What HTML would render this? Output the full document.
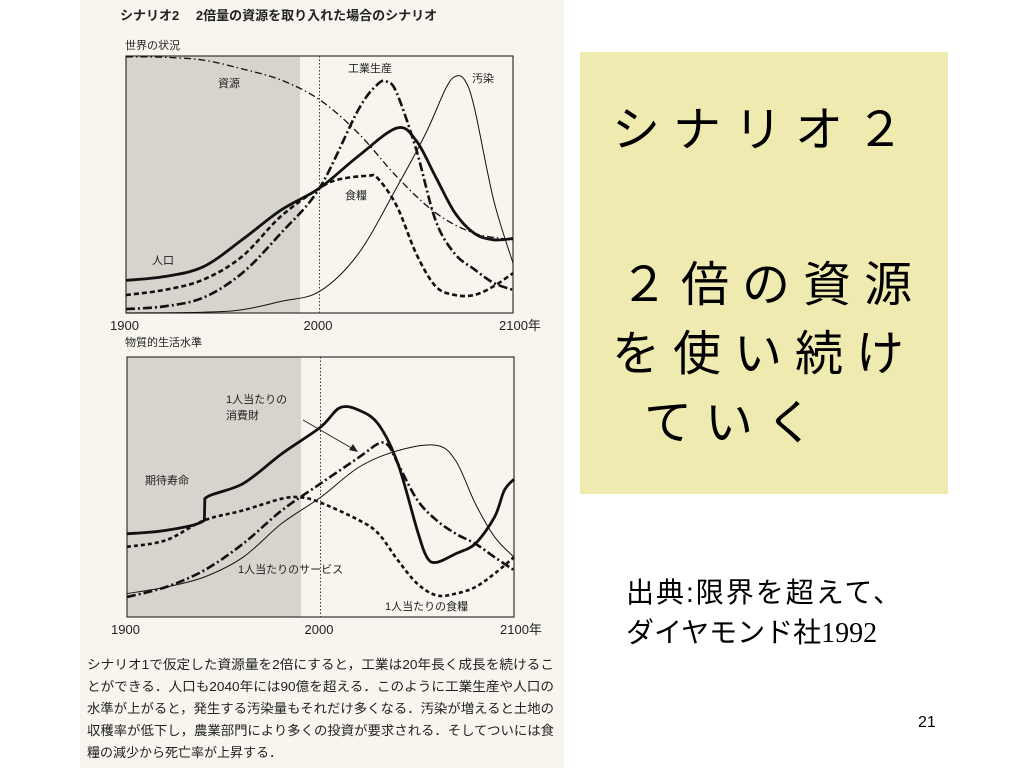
<!DOCTYPE html>
<html><head><meta charset="utf-8"><style>
html,body{margin:0;padding:0;background:#fff;}
svg{display:block;}
text{font-family:"Liberation Sans","Noto Sans CJK JP",sans-serif;}
</style></head><body>
<svg id="slide" width="1024" height="768" viewBox="0 0 1024 768">
<rect x="80" y="0" width="484" height="768" fill="#f7f5ee"/>
<text x="120" y="20" font-size="13" font-weight="bold" fill="#222">シナリオ2　 2倍量の資源を取り入れた場合のシナリオ</text>
<text x="125" y="49" font-size="11" fill="#222">世界の状況</text>
<text x="125" y="346" font-size="11" fill="#222">物質的生活水準</text>
<g id="topchart"></g>
<g id="botchart"></g>
<g font-size="13" fill="#222">
<text x="87" y="669" textLength="467" lengthAdjust="spacingAndGlyphs">シナリオ1で仮定した資源量を2倍にすると，工業は20年長く成長を続けるこ</text>
<text x="87" y="691" textLength="467" lengthAdjust="spacingAndGlyphs">とができる．人口も2040年には90億を超える．このように工業生産や人口の</text>
<text x="87" y="713" textLength="467" lengthAdjust="spacingAndGlyphs">水準が上がると，発生する汚染量もそれだけ多くなる．汚染が増えると土地の</text>
<text x="87" y="735" textLength="467" lengthAdjust="spacingAndGlyphs">収穫率が低下し，農業部門により多くの投資が要求される．そしてついには食</text>
<text x="87" y="757" textLength="195" lengthAdjust="spacingAndGlyphs">糧の減少から死亡率が上昇する．</text>
</g>
<rect x="580" y="52" width="368" height="442" fill="#efebb0"/>
<g font-size="48" fill="#000" letter-spacing="13">
<text x="612" y="146">シナリオ２</text>
<text x="620" y="301">２倍の資源</text>
<text x="612" y="370">を使い続け</text>
<text x="644" y="439">ていく</text>
</g>
<g font-size="28" fill="#000">
<text x="626" y="602" letter-spacing="2">出典:限界を超えて、</text>
<text x="626" y="642">ダイヤモンド社<tspan font-family="Liberation Serif, serif">1992</tspan></text>
</g>
<text x="918" y="727" font-size="16" font-family="Liberation Serif, serif" fill="#000">21</text>
</svg>
<script>
// top chart series (0-100 scale)
const popYears = [1900,1920,1940,1960,1980,2000,2020,2040,2050,2060,2070,2080,2090,2100];
const popVals  = [12.7,14.2,18,28.5,40,48.6,61,72,67,53,39,31,28.5,29];
const resYears = [1900,1920,1940,1960,1980,2000,2020,2040,2060,2080,2100];
const resVals  = [99.7,99.5,98.4,95,90.7,83,70,53,39,31,28.5];
const indYears = [1900,1920,1940,1960,1980,2000,2020,2030,2035,2040,2050,2060,2070,2080,2090,2100];
const indVals  = [1.5,2.6,6,15.5,31,48.6,79,89,90,85.5,63.5,36,23,17,11.7,9];
const foodYears= [1900,1920,1940,1960,1980,2000,2010,2025,2030,2040,2050,2060,2070,2080,2090,2100];
const foodVals = [7,9,13,22,37.6,48.6,52,53.4,52.5,41.5,23,10.4,7,7,10.4,15.5];
const polYears = [1900,1940,1960,1980,2000,2020,2040,2055,2065,2070,2075,2080,2090,2100];
const polVals  = [0,0.3,1.3,4.5,8.4,23,49,70,87,92,90.7,80,44,19.4];
// bottom chart series
const lifeYears= [1900,1920,1940,1940.2,1960,1980,2000,2010,2020,2030,2040,2050,2055,2060,2070,2080,2090,2095,2100];
const lifeVals = [32,33.3,37.2,45.5,51.3,62.8,73,80.5,79.5,74,59,33.3,23,21,24.4,28.2,38.5,48.7,53];
const fpcYears = [1900,1920,1940,1960,1980,1990,2000,2020,2030,2040,2050,2060,2070,2080,2090,2100];
const fpcVals  = [27,29.5,37.2,41,45.5,46,44,37.2,32,21.8,12.8,8.3,9,11.5,16.7,23];
const svcYears = [1900,1920,1940,1960,1980,2000,2020,2030,2035,2040,2050,2060,2070,2080,2090,2100];
const svcVals  = [7.7,11.5,18,28.2,41,51.3,61.5,66.7,66,59,45,37.2,32,28.2,23,18];
const cgYears  = [1900,1920,1940,1960,1980,2000,2020,2040,2060,2070,2080,2090,2100];
const cgVals   = [9,11.5,15.4,23,36,46,57.7,64,66,60,43.6,30.8,23];
const tickYears = [1900,2000,2100];
const xTicks = ['1900','2000','2100年'];

const NS='http://www.w3.org/2000/svg';
function mk(parent,tag,attrs){const e=document.createElementNS(NS,tag);for(const k in attrs)e.setAttribute(k,attrs[k]);parent.appendChild(e);return e;}
function pathD(pts){let d='M'+pts[0][0]+','+pts[0][1];
 for(let i=0;i<pts.length-1;i++){const p0=pts[i-1]||pts[i],p1=pts[i],p2=pts[i+1],p3=pts[i+2]||p2;
  if(p2[0]-p1[0]<2){d+=' L'+p2[0]+','+p2[1];continue;}
  const c1=[p1[0]+(p2[0]-p0[0])/6,p1[1]+(p2[1]-p0[1])/6],c2=[p2[0]-(p3[0]-p1[0])/6,p2[1]-(p3[1]-p1[1])/6];
  d+=' C'+c1.join(',')+' '+c2.join(',')+' '+p2.join(',');}
 return d;}
function chart(g,box){
 const xs=y=>box.x0+(y-1900)/200*(box.x1-box.x0);
 const ys=v=>box.y1-v/100*(box.y1-box.y0);
 const sh=mk(g,'rect',{x:box.x0,y:box.y0,width:box.shade-box.x0,height:box.y1-box.y0,fill:'#d6d4cc'});
 
 
 const dl=mk(g,'line',{x1:xs(2000),x2:xs(2000),y1:box.y0,y2:box.y1,stroke:'#333','stroke-width':1,'stroke-dasharray':'1.5,2'});
 
 
 const fr=mk(g,'rect',{x:box.x0,y:box.y0,width:box.x1-box.x0,height:box.y1-box.y0,fill:'none',stroke:'#333','stroke-width':1.2});
 
 
 tickYears.forEach((yr,i)=>{const t=mk(g,'text',{x:xs(yr)-(i==2?14:16),y:box.y1+17,'font-size':13,fill:'#222'});t.textContent=xTicks[i];
  
  });
 return {xs,ys};
}
function series(g,ax,yrs,vals,style,name){
 const pts=yrs.map((y,i)=>[+ax.xs(y).toFixed(1),+ax.ys(vals[i]).toFixed(1)]);
 const p=mk(g,'path',Object.assign({d:pathD(pts),fill:'none',stroke:'#111','stroke-linecap':'butt'},style));
 
 
}
function label(g,x,y,s,name){const t=mk(g,'text',{x:x,y:y,'font-size':11,fill:'#222'});t.textContent=s;
 
 }
const topG=document.getElementById('topchart');
const ta=chart(topG,{x0:126,x1:513,y0:56,y1:313,shade:300});
series(topG,ta,resYears,resVals,{'stroke-width':1.3,'stroke-dasharray':'7,3,1.5,3'},'resources-line');
series(topG,ta,polYears,polVals,{'stroke-width':1},'pollution-line');
series(topG,ta,foodYears,foodVals,{'stroke-width':2.6,'stroke-dasharray':'5,3'},'food-line');
series(topG,ta,indYears,indVals,{'stroke-width':2.6,'stroke-dasharray':'9,3,2,3'},'industrial-output-line');
series(topG,ta,popYears,popVals,{'stroke-width':2.8},'population-line');
label(topG,218,87,'資源','resources-label');
label(topG,348,72,'工業生産','industrial-output-label');
label(topG,472,82,'汚染','pollution-label');
label(topG,345,199,'食糧','food-label');
label(topG,152,264,'人口','population-label');
const botG=document.getElementById('botchart');
const ba=chart(botG,{x0:127,x1:514,y0:357,y1:617,shade:301});
series(botG,ba,cgYears,cgVals,{'stroke-width':1},'consumer-goods-line');
series(botG,ba,fpcYears,fpcVals,{'stroke-width':2.6,'stroke-dasharray':'4,3'},'food-per-capita-line');
series(botG,ba,svcYears,svcVals,{'stroke-width':2.6,'stroke-dasharray':'9,3,2,3'},'services-per-capita-line');
series(botG,ba,lifeYears,lifeVals,{'stroke-width':2.8},'life-expectancy-line');
label(botG,226,403,'1人当たりの','consumer-goods-label');
label(botG,226,419,'消費財','consumer-goods-label-2');
const ar=mk(botG,'line',{x1:303,y1:420,x2:355,y2:450,stroke:'#222','stroke-width':1});


const ah=mk(botG,'path',{d:'M358,452 L349,450 L353,444 Z',fill:'#222'});


label(botG,145,484,'期待寿命','life-expectancy-label');
label(botG,238,573,'1人当たりのサービス','services-label');
label(botG,385,610,'1人当たりの食糧','food-per-capita-label');
</script>
</body></html>
